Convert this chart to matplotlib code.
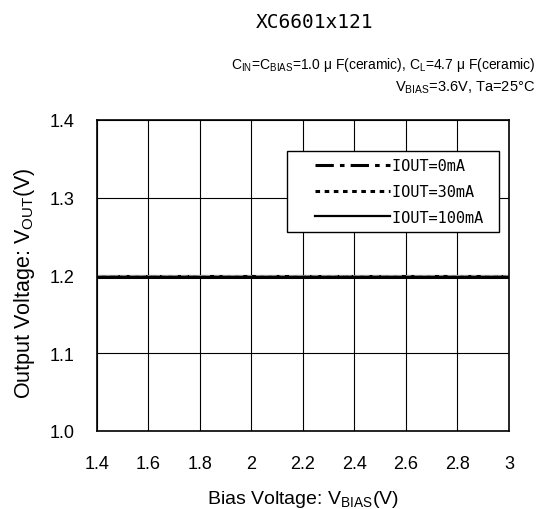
import numpy as np
import matplotlib
matplotlib.use("Agg")
import matplotlib.pyplot as plt
from matplotlib.legend_handler import HandlerLine2D

plt.rcParams['font.family'] = ['Liberation Sans', 'Noto Sans CJK JP', 'DejaVu Sans']
plt.rcParams['mathtext.fontset'] = 'custom'
plt.rcParams['mathtext.rm'] = 'Liberation Sans'

# データ
vbias = [1.4, 1.6, 1.8, 2.0, 2.2, 2.4, 2.6, 2.8, 3.0]
vout_0mA = [1.199, 1.199, 1.199, 1.199, 1.199, 1.199, 1.199, 1.199, 1.199]
vout_30mA = [1.199, 1.199, 1.199, 1.199, 1.199, 1.199, 1.199, 1.199, 1.199]
vout_100mA = [1.1985, 1.1985, 1.1985, 1.1985, 1.1985, 1.1985, 1.1985, 1.1985, 1.1985]

xticks = [1.4, 1.6, 1.8, 2.0, 2.2, 2.4, 2.6, 2.8, 3.0]
xticklabels = ["1.4", "1.6", "1.8", "2", "2.2", "2.4", "2.6", "2.8", "3"]
yticks = [1.0, 1.1, 1.2, 1.3, 1.4]
yticklabels = ["1.0", "1.1", "1.2", "1.3", "1.4"]


# 凡例の線の左側に余白をつける
class PadHandler(HandlerLine2D):
    def get_xdata(self, legend, xdescent, ydescent, width, height, fontsize):
        xd, xm = super().get_xdata(legend, xdescent, ydescent, width, height, fontsize)
        xd = np.array(xd, dtype=float)
        xd[0] += 15
        return xd, xm


fig = plt.figure(figsize=(5.38, 5.10), dpi=100)
ax = fig.add_axes([0.180, 0.153, 0.766, 0.610])

ax.plot(vbias, vout_0mA, color='#888888', linestyle=(0, (6, 2, 1.5, 2)), lw=2, label='IOUT=0mA')
ax.plot(vbias, vout_30mA, color='#999999', linestyle=(0, (1.5, 1.5)), lw=2, label='IOUT=30mA')
ax.plot(vbias, vout_100mA, color='black', linestyle='-', lw=2.2, label='IOUT=100mA')

ax.set_xlim(1.4, 3.0)
ax.set_ylim(1.0, 1.4)
ax.set_xticks(xticks)
ax.set_xticklabels(xticklabels)
ax.set_yticks(yticks)
ax.set_yticklabels(yticklabels)
ax.tick_params(length=0, labelsize=13)
ax.tick_params(axis='x', pad=17)
ax.tick_params(axis='y', pad=16)
ax.grid(True, color='black', lw=0.8)
for s in ax.spines.values():
    s.set_linewidth(1.2)

# 凡例（線はダミーで黒く描く）
h0, = ax.plot([], [], color='black', linestyle=(0, (6, 2, 1.5, 2)), lw=2.2)
h1, = ax.plot([], [], color='black', linestyle=(0, (1.5, 1.5)), lw=2.2)
h2, = ax.plot([], [], color='black', linestyle='-', lw=1.6)
leg = ax.legend([h0, h1, h2], ['IOUT=0mA ', 'IOUT=30mA ', 'IOUT=100mA '],
                loc='upper left', bbox_to_anchor=(0.461, 0.9), borderaxespad=0,
                fancybox=False, edgecolor='black', framealpha=1,
                handlelength=6.3, handletextpad=0.1,
                borderpad=0.47, labelspacing=0.7,
                handler_map={matplotlib.lines.Line2D: PadHandler()},
                prop={'family': 'DejaVu Sans Mono', 'size': 11})
leg.get_frame().set_linewidth(1.0)

ax.set_xlabel(r'Bias Voltage: V$\mathregular{_{BIAS}}$(V)', fontsize=14, labelpad=12)
ax.set_ylabel(r'Output Voltage: V$\mathregular{_{OUT}}$(V)', fontsize=15.5)
ax.yaxis.set_label_coords(-0.145, 0.479)

fig.text(0.584, 0.955, 'XC6601x121', ha='center', va='center', fontsize=14,
         family='DejaVu Sans Mono')
fig.text(0.995, 0.872, r'C$\mathregular{_{IN}}$=C$\mathregular{_{BIAS}}$=1.0 μ F(ceramic), C$\mathregular{_{L}}$=4.7 μ F(ceramic)',
         ha='right', va='center', fontsize=10)
fig.text(0.995, 0.827, r'V$\mathregular{_{BIAS}}$=3.6V, Ta=25°C', ha='right', va='center', fontsize=10.5)

fig.savefig('out.png', dpi=100)
